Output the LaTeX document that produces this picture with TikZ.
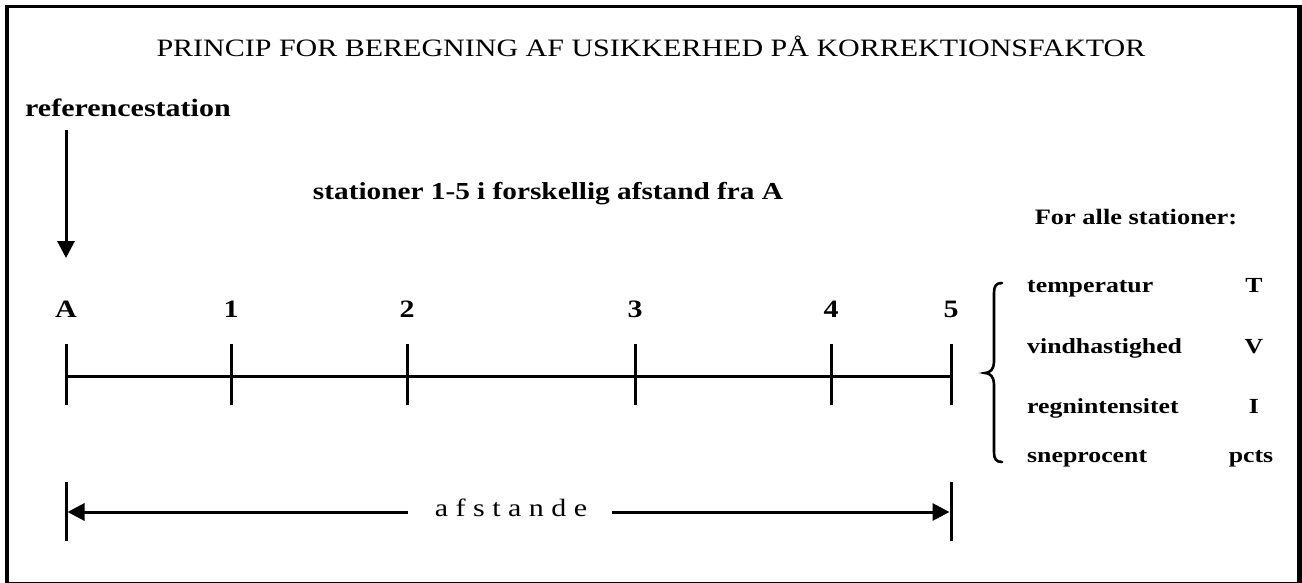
\documentclass[tikz,border=0pt]{standalone}
\usepackage{fontspec}
\setmainfont{Liberation Serif}[FakeStretch=1.2]
\usetikzlibrary{arrows.meta}

\tikzset{
  txt/.style={inner sep=0pt, anchor=base},
  big/.style={txt, font=\fontsize{25}{30}\selectfont},
  bigb/.style={txt, font=\bfseries\fontsize{25}{30}\selectfont},
  statb/.style={txt, font=\bfseries\fontsize{24.4}{29}\selectfont},
  midb/.style={txt, font=\bfseries\fontsize{22}{26}\selectfont},
  itemb/.style={txt, anchor=base west, font=\bfseries\fontsize{21.5}{26}\selectfont},
  symb/.style={txt, font=\bfseries\fontsize{21.5}{26}\selectfont},
  line/.style={line width=3pt},
  arr/.style={line width=3pt, -{Triangle[length=17pt,width=17pt]}},
}

\begin{document}
\begin{tikzpicture}[x=1pt, y=-1pt]
\useasboundingbox (0,0) rectangle (1302,583);

% frame: heavy left, top and right edges, thin bottom edge
\fill (5,5) rectangle (9,583);
\fill (5,5) rectangle (1302,8);
\fill (1297,5) rectangle (1302,583);
\fill (5,581.5) rectangle (1302,583);

% headings
\node[big]  (title) at (651,57) {PRINCIP FOR BEREGNING AF USIKKERHED PÅ KORREKTIONSFAKTOR};
\node[bigb, anchor=base west] (ref) at (25,117) {referencestation};
\node[statb] (stat) at (548,200) {stationer 1-5 i forskellig afstand fra A};
\node[midb] (forall) at (1136,225) {For alle stationer:};

% arrow pointing at the reference station
\coordinate (arrS) at (66,130);
\coordinate (arrE) at (66,258);
\draw[arr] (arrS) -- (arrE);

% station labels
\node[bigb] (lA) at (66,317)  {A};
\node[bigb] (l1) at (231,317) {1};
\node[bigb] (l2) at (407,317) {2};
\node[bigb] (l3) at (635,317) {3};
\node[bigb] (l4) at (831,317) {4};
\node[bigb] (l5) at (951,317) {5};

% axis with ticks
\coordinate (pA) at (66,376);
\coordinate (p5) at (951,376);
\draw[line] (pA) -- (p5);
\foreach \n/\x in {A/66, 1/231, 2/407, 3/635, 4/831, 5/951}{
  \coordinate (t\n a) at (\x,344);
  \coordinate (t\n b) at (\x,405);
  \draw[line] (t\n a) -- (t\n b);
}

% distance dimension
\coordinate (dLa) at (66,482);
\coordinate (dLb) at (66,541);
\coordinate (dRa) at (951,482);
\coordinate (dRb) at (951,541);
\draw[line] (dLa) -- (dLb);
\draw[line] (dRa) -- (dRb);
\coordinate (dL) at (67.5,512);
\coordinate (dR) at (949.5,512);
\coordinate (gL) at (408,512);
\coordinate (gR) at (612,512);
\node[big] (afst) at (511,516) {a f s t a n d e};
\draw[arr] (gL) -- (dL);
\draw[arr] (gR) -- (dR);

% brace grouping the quantities
\coordinate (brT) at (1002,283);
\coordinate (brM) at (985,373);
\coordinate (brB) at (1002,462);
\draw[line width=2.6pt, line cap=round]
  (brT) .. controls (996,283) and (994,286) .. (994,293)
  -- (994,362) .. controls (994,369) and (990,373) .. (brM)
  .. controls (990,373) and (994,377) .. (994,384)
  -- (994,452) .. controls (994,459) and (996,462) .. (brB);

% measured quantities and their symbols
\node[itemb] (q1) at (1027,292) {temperatur};
\node[itemb] (q2) at (1027,353) {vindhastighed};
\node[itemb] (q3) at (1027,413) {regnintensitet};
\node[itemb] (q4) at (1027,462) {sneprocent};
\node[symb] (s1) at (1254,292) {T};
\node[symb] (s2) at (1254,353) {V};
\node[symb] (s3) at (1254,413) {I};
\node[symb] (s4) at (1251,462) {pcts};
\end{tikzpicture}
\end{document}
